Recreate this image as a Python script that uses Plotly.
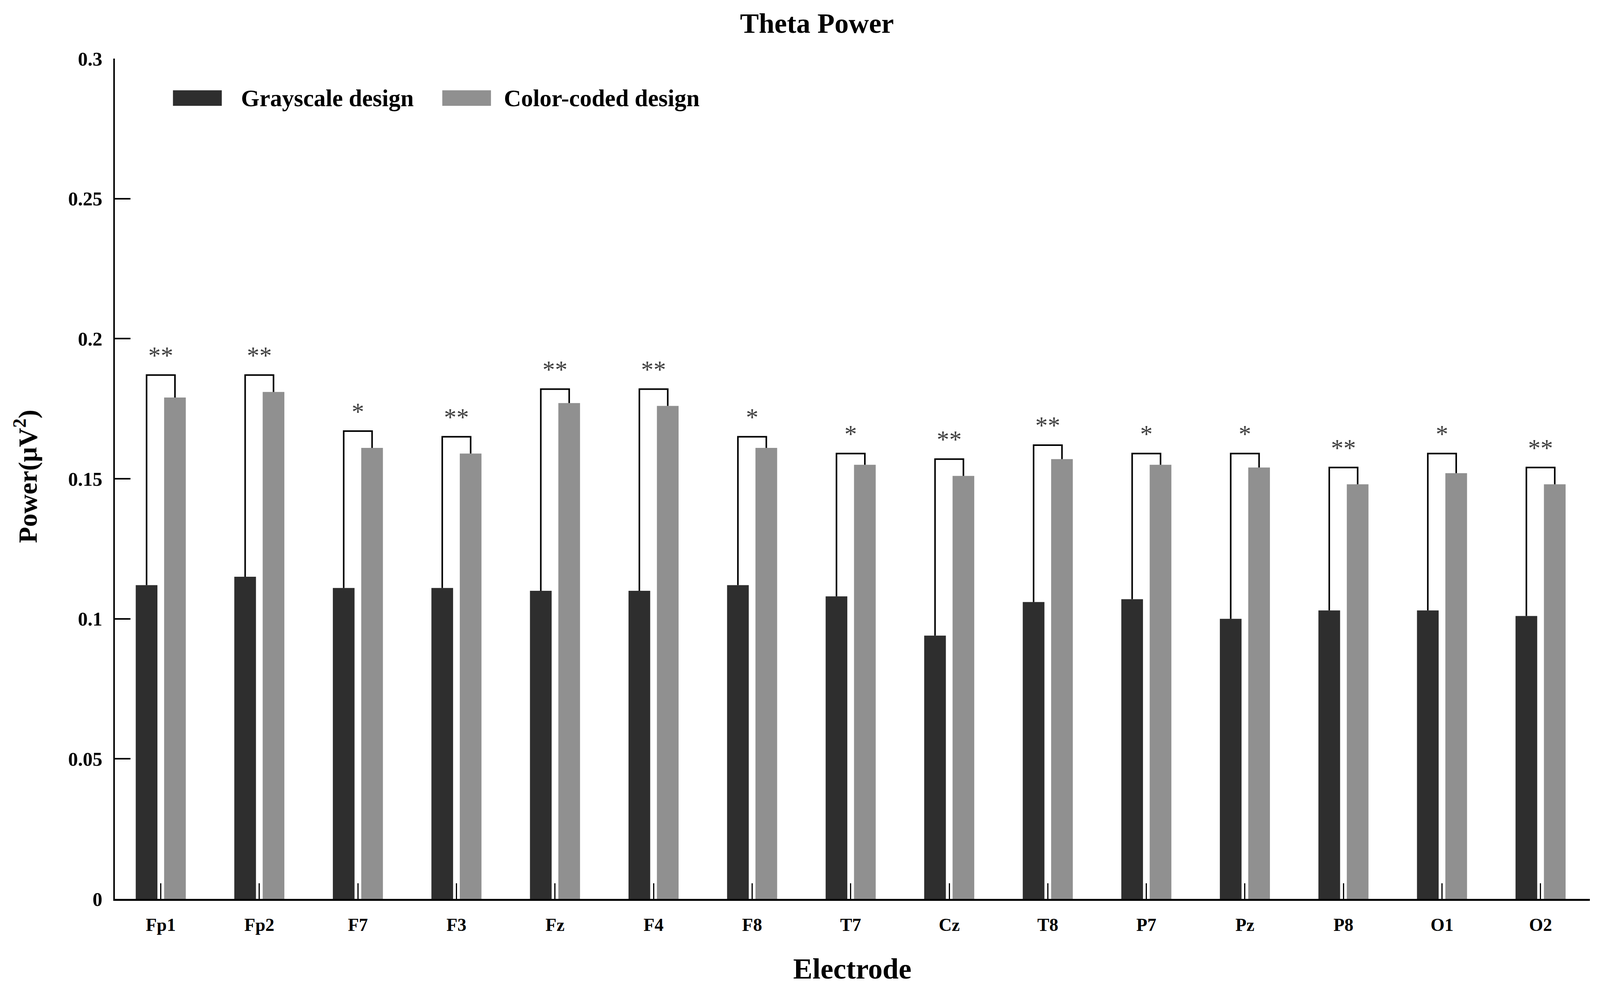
import plotly.graph_objects as go

electrodes = ['Fp1', 'Fp2', 'F7', 'F3', 'Fz', 'F4', 'F8', 'T7', 'Cz', 'T8', 'P7', 'Pz', 'P8', 'O1', 'O2']
grayscale = [0.112, 0.115, 0.111, 0.111, 0.110, 0.110, 0.112, 0.108, 0.094, 0.106, 0.107, 0.100, 0.103, 0.103, 0.101]
color_coded = [0.179, 0.181, 0.161, 0.159, 0.177, 0.176, 0.161, 0.155, 0.151, 0.157, 0.155, 0.154, 0.148, 0.152, 0.148]
bracket_top = [0.187, 0.187, 0.167, 0.165, 0.182, 0.182, 0.165, 0.159, 0.157, 0.162, 0.159, 0.159, 0.154, 0.159, 0.154]
stars = ['**', '**', '*', '**', '**', '**', '*', '*', '**', '**', '*', '*', '**', '*', '**']
y_ticks = [0, 0.05, 0.1, 0.15, 0.2, 0.25, 0.3]
y_ticktext = ['0', '0.05', '0.1', '0.15', '0.2', '0.25', '0.3']

FONT = 'Liberation Serif'
DARK = '#2e2e2e'
GRAY = '#909090'
BAR_W = 0.22
SHIFT = 0.144  # distance of each bar centre from the group centre

idx = list(range(len(electrodes)))

fig = go.Figure()
fig.add_trace(go.Bar(x=[i - SHIFT for i in idx], y=grayscale, width=BAR_W,
                     marker=dict(color=DARK, line=dict(width=0)), name='Grayscale design'))
fig.add_trace(go.Bar(x=[i + SHIFT for i in idx], y=color_coded, width=BAR_W,
                     marker=dict(color=GRAY, line=dict(width=0)), name='Color-coded design'))

# significance brackets
bx, by = [], []
for i in idx:
    bx += [i - SHIFT, i - SHIFT, i + SHIFT, i + SHIFT, None]
    by += [grayscale[i], bracket_top[i], bracket_top[i], color_coded[i], None]
fig.add_trace(go.Scatter(x=bx, y=by, mode='lines', line=dict(color='black', width=4),
                         hoverinfo='skip'))
fig.add_trace(go.Scatter(x=idx, y=[b + 0.0062 for b in bracket_top], mode='text', text=stars,
                         textfont=dict(family=FONT, size=64, color='#404040'),
                         textposition='middle center', hoverinfo='skip'))

fig.update_layout(
    margin=dict(l=286, r=18, t=142, b=233),
    paper_bgcolor='white', plot_bgcolor='white',
    showlegend=False,
    barmode='overlay',
    font=dict(family=FONT, color='black'),
    title=dict(text='<b>Theta Power</b>', x=0.476, xref='paper', xanchor='center',
               y=0.98, yanchor='middle', font=dict(size=72, family=FONT)),
)
fig.update_xaxes(range=[-0.466, 14.5], tickvals=idx, ticktext=['<b>%s</b>' % e for e in electrodes],
                 ticks='inside', ticklen=40, tickwidth=3, tickcolor='black',
                 showline=True, linecolor='black', linewidth=5, showgrid=False, zeroline=False,
                 tickfont=dict(size=46, family=FONT), ticklabelstandoff=22,
                 title=dict(text='<b>Electrode</b>', font=dict(size=74, family=FONT), standoff=62))
fig.update_yaxes(range=[0, 0.3], tickvals=y_ticks, ticktext=['<b>%s</b>' % t for t in y_ticktext],
                 ticks='inside', ticklen=40, tickwidth=4, tickcolor='black',
                 showline=True, linecolor='black', linewidth=4, showgrid=False, zeroline=False,
                 tickfont=dict(size=50, family=FONT), ticklabelstandoff=18)

fig.add_annotation(text='<b>Power(μV<sup>2</sup>)</b>', xref='paper', yref='paper', x=-0.0603, y=0.503,
                   xanchor='center', yanchor='middle', textangle=-90, showarrow=False,
                   font=dict(size=68, family=FONT))

# legend drawn by hand so the swatches match the original size
legend_items = [('Grayscale design', DARK, 0.0394, 0.0725, 0.0849),
                ('Color-coded design', GRAY, 0.222, 0.255, 0.2633)]
for label, col, x0, x1, xt in legend_items:
    fig.add_shape(type='rect', xref='paper', yref='paper', x0=x0, x1=x1, y0=0.9438, y1=0.9622,
                  fillcolor=col, line=dict(width=0))
    fig.add_annotation(text='<b>%s</b>' % label, xref='paper', yref='paper', x=xt, y=0.953,
                       xanchor='left', yanchor='middle', showarrow=False,
                       font=dict(size=61, family=FONT))

fig.write_html('out.html')
